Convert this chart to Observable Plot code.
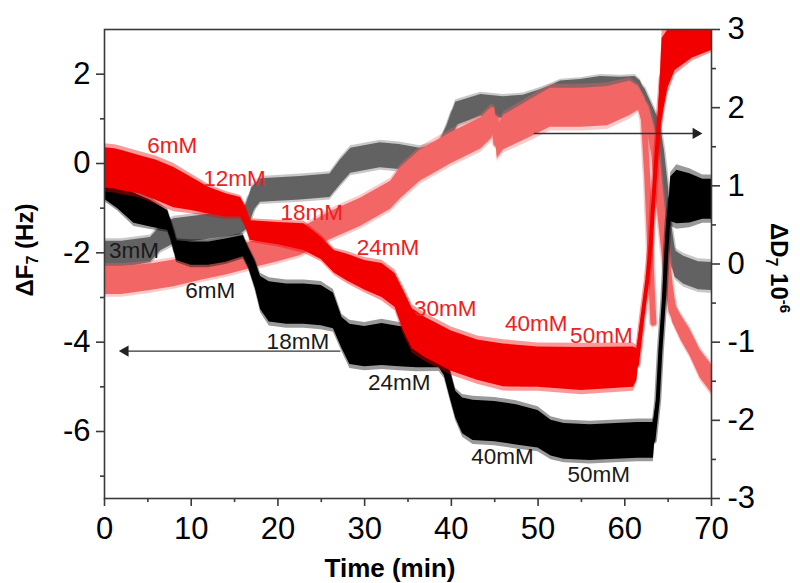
<!DOCTYPE html>
<html><head><meta charset="utf-8">
<script src="https://cdn.jsdelivr.net/npm/d3@7"></script>
<script src="https://cdn.jsdelivr.net/npm/@observablehq/plot@0.6"></script>
<style>
body{margin:0;background:#fff;}
#chart{width:800px;height:583px;}
</style></head><body>
<div id="chart"></div>
<script>
// ---- axes ----
const xDomain = [0, 70];
const yLeftDomain = [-7.5, 3];   // ΔF7 (Hz)
const yRightDomain = [-3, 3];    // ΔD7 (1e-6)
const xMajor = [0, 10, 20, 30, 40, 50, 60, 70];
const xMinor = [5, 15, 25, 35, 45, 55, 65];
const yMajor = [-6, -4, -2, 0, 2];
const yMinor = [-7, -5, -3, -1, 1];
const dMajor = [-3, -2, -1, 0, 1, 2, 3];
const dMinor = [-2.5, -1.5, -0.5, 0.5, 1.5, 2.5];

// ---- ΔF7, black (sample 1): time, centre of band, half band width ----
const tF1 = [0,1.5,3.4,5.3,7.3,7.7,8.3,10,12,14,16.0,16.6,17.4,18.0,19.0,21,23,25,26.4,27.4,28.3,30,32,34,36,38.6,39.2,39.8,40.5,41.3,42.5,45,47.5,50,51.5,53,56,59,61.5,63.3,63.8,64.1,64.5,64.8,65.0,65.3,66,67.5,69,70];
const f1 = [-0.55,-0.76,-1.0,-1.12,-1.28,-1.5,-1.95,-2.02,-2.02,-1.95,-1.85,-2.1,-2.5,-2.9,-3.1,-3.15,-3.15,-3.18,-3.3,-3.8,-4.05,-4.1,-4.05,-4.1,-4.12,-4.15,-4.4,-4.9,-5.4,-5.65,-5.75,-5.78,-5.85,-5.95,-6.15,-6.22,-6.25,-6.22,-6.2,-6.2,-5.3,-4.2,-3.07,-1.95,-1.3,-0.8,-0.75,-0.78,-0.8,-0.8];
const wF1 = [0.25,0.25,0.34,0.3,0.22,0.2,0.22,0.26,0.26,0.26,0.24,0.22,0.3,0.37,0.45,0.45,0.45,0.45,0.4,0.35,0.45,0.45,0.47,0.45,0.45,0.42,0.35,0.3,0.3,0.4,0.45,0.45,0.45,0.42,0.4,0.4,0.4,0.4,0.4,0.4,0.12,0.1,0.1,0.1,0.12,0.5,0.6,0.55,0.45,0.45];

// ---- ΔF7, red (sample 2) ----
const tF2 = [0,1.2,2,4,6,8,10,12,14,15.7,16.3,16.8,20,23,25,26.5,28,30,32,33.5,34.5,35.5,37,40,43,46,50,55,61,61.4,62.0,62.6,63.0,63.4,63.7,64.0,64.3,65.0,65.8,67.8,70];
const f2 = [-0.1,-0.12,-0.16,-0.25,-0.38,-0.54,-0.68,-0.83,-0.94,-0.98,-1.2,-1.5,-1.57,-1.65,-1.9,-2.2,-2.33,-2.5,-2.62,-2.84,-3.3,-3.7,-3.9,-4.2,-4.4,-4.52,-4.56,-4.6,-4.56,-4.5,-3.5,-2.6,-1.8,-0.5,0.3,1.1,1.9,2.35,2.54,2.68,2.77];
const wF2 = [0.45,0.45,0.45,0.43,0.45,0.45,0.37,0.3,0.26,0.22,0.22,0.22,0.25,0.3,0.25,0.25,0.3,0.33,0.38,0.38,0.45,0.45,0.45,0.45,0.45,0.48,0.45,0.48,0.45,0.35,0.12,0.12,0.12,0.12,0.15,0.4,0.9,0.65,0.46,0.32,0.24];

// ---- ΔD7, grey (sample 1), in 1e-6 ----
const tD1 = [0,2,5.3,6.5,8,11,15.6,16.4,17,18,22.6,26,27.2,28.4,31.8,34,36.4,38.5,39.5,40.5,43.4,46,48.3,50,51.4,52.6,54.9,57.2,59.5,61.2,61.8,62.7,63.5,64.0,64.5,64.9,65.3,65.8,66.8,68.5,70];
const d1 = [0.12,0.12,0.18,0.33,0.42,0.46,0.53,0.6,0.82,0.94,0.97,1.0,1.17,1.32,1.39,1.37,1.32,1.38,1.6,1.92,2.03,2.0,2.02,2.08,2.15,2.22,2.24,2.28,2.27,2.28,2.22,2.0,1.8,1.45,0.95,0.45,0.15,0.0,-0.08,-0.15,-0.16];
const wD1 = [0.17,0.17,0.16,0.16,0.16,0.16,0.16,0.16,0.16,0.15,0.15,0.15,0.16,0.16,0.16,0.16,0.16,0.16,0.16,0.15,0.14,0.14,0.14,0.14,0.13,0.12,0.12,0.12,0.12,0.12,0.12,0.1,0.1,0.1,0.1,0.1,0.12,0.17,0.18,0.18,0.18];

// ---- ΔD7, pink (sample 2) ----
const tD2 = [0,2,5.3,8,11,14,16.8,20,22.6,26,29.5,33,34.1,36.4,39.9,43.4,44.6,45.0,45.3,46,49.1,51.4,55,58,60.6,61.6,62.3,63.0,63.5,64.3,64.7,65.1,65.5,66.5,67.5,68.7,70];
const d2 = [-0.21,-0.21,-0.17,-0.12,-0.04,0.03,0.11,0.2,0.28,0.49,0.66,0.88,1.03,1.26,1.48,1.67,1.8,1.85,1.55,1.68,1.86,2.0,2.0,2.02,2.12,2.12,2.0,1.7,1.41,0.55,0.13,-0.3,-0.6,-0.82,-1.0,-1.28,-1.47];
const wD2 = [0.18,0.18,0.17,0.17,0.17,0.17,0.17,0.17,0.17,0.18,0.18,0.18,0.2,0.2,0.2,0.2,0.2,0.15,0.2,0.22,0.24,0.25,0.25,0.25,0.22,0.15,0.12,0.12,0.12,0.12,0.12,0.12,0.14,0.16,0.17,0.18,0.18];
// fast-dropping pink branch after 61 min
const tD2drop = [61.6,62.2,62.6,62.9,63.1,63.3];
const d2drop = [2.12,1.85,1.1,0.3,-0.3,-0.75];
const wD2drop = [0.12,0.1,0.1,0.1,0.1,0.1];

// ---- concentration labels ----
const redLabelText = ["6mM","12mM","18mM","24mM","30mM","40mM","50mM"];
const redLabelT = [7.8,15.0,23.9,32.7,39.3,49.8,57.3];
const redLabelF = [0.4,-0.34,-1.1,-1.88,-3.25,-3.58,-3.85];
const blackLabelText = ["3mM","6mM","18mM","24mM","40mM","50mM"];
const blackLabelT = [3.4,12.2,22.3,34.0,45.9,57.0];
const blackLabelF = [-1.95,-2.86,-3.99,-4.9,-6.56,-6.96];

// ---- arrows (which axis each points to) ----
const arrowFrom = [27.2, 49.5];
const arrowTo = [1.6, 69.0];
const arrowLevel = [-4.2, 1.67];
const arrowAxis = ["F", "D"];

// map ΔD onto the ΔF scale so the right axis lines up with the frame
const dToF = d => yLeftDomain[0] + (d - yRightDomain[0]) * (yLeftDomain[1] - yLeftDomain[0]) / (yRightDomain[1] - yRightDomain[0]);
const fToD = f => yRightDomain[0] + (f - yLeftDomain[0]) * (yRightDomain[1] - yRightDomain[0]) / (yLeftDomain[1] - yLeftDomain[0]);

// band rows; k widens the band for a faint outer fringe of scattered points
const band = (t, m, w, conv = v => v, k = 1) => t.map((ti, i) => ({t: ti, mid: conv(m[i]), lo: conv(m[i] - k * w[i]), hi: conv(m[i] + k * w[i])}));

function bandMarks(t, m, w, conv, fill, midW, fringe) {
  const core = band(t, m, w, conv, 1);
  const halo = band(t, m, w, conv, 1.2);
  return [
    Plot.areaY(halo, {x: "t", y1: "lo", y2: "hi", fill: fill, fillOpacity: fringe, clip: true}),
    Plot.line(halo, {x: "t", y: "mid", stroke: fill, strokeOpacity: fringe, strokeWidth: midW + 3, clip: true}),
    Plot.areaY(core, {x: "t", y1: "lo", y2: "hi", fill: fill, clip: true}),
    Plot.line(core, {x: "t", y: "mid", stroke: fill, strokeWidth: midW, clip: true})
  ];
}

const arrows = arrowFrom.map((a, i) => {
  const y = arrowAxis[i] === "D" ? dToF(arrowLevel[i]) : arrowLevel[i];
  const dir = Math.sign(arrowTo[i] - a);
  return {x1: a, x2: arrowTo[i] - dir * 0.8, head: arrowTo[i] - dir * 0.8, y, rot: dir > 0 ? 90 : -90};
});

const redLabels = redLabelText.map((s, i) => ({s, t: redLabelT[i], f: redLabelF[i]}));
const blackLabels = blackLabelText.map((s, i) => ({s, t: blackLabelT[i], f: blackLabelF[i]}));

const fmt = v => String(Math.round(v * 100) / 100);
const axisCol = "#3a3a3a";

const chart = Plot.plot({
  width: 800, height: 583,
  marginLeft: 104, marginRight: 89, marginTop: 29, marginBottom: 85,
  x: {domain: xDomain},
  y: {domain: yLeftDomain},
  style: {fontFamily: "'Liberation Sans', Arial, sans-serif", fontSize: "31px", background: "#fff", color: "#000"},
  marks: [
    ...bandMarks(tD1, d1, wD1, dToF, "#626262", 9, 0.35),
    ...bandMarks(tD2, d2, wD2, dToF, "#f36666", 8, 0.35),
    ...bandMarks(tD2drop, d2drop, wD2drop, dToF, "#f36666", 6, 0.35),
    ...bandMarks(tF1, f1, wF1, v => v, "#000", 4, 0.4),
    ...bandMarks(tF2, f2, wF2, v => v, "#f20000", 4, 0.4),
    Plot.link(arrows, {x1: "x1", x2: "x2", y1: "y", y2: "y", stroke: "#333", strokeWidth: 1.4}),
    Plot.dot(arrows, {x: "head", y: "y", symbol: "triangle", r: 4.2, fill: "#222", stroke: "none", rotate: "rot"}),
    Plot.text(redLabels, {x: "t", y: "f", text: "s", fill: "#ee2020", fontSize: 22.5}),
    Plot.text(blackLabels, {x: "t", y: "f", text: "s", fill: "#1a1a1a", fontSize: 22.5}),
    Plot.frame({stroke: axisCol, strokeWidth: 1.6}),
    Plot.axisX({ticks: xMajor, tickSize: 8, tickPadding: 10, tickFormat: fmt, label: null, stroke: axisCol, fill: "#000", strokeWidth: 1.6}),
    Plot.axisX({ticks: xMinor, tickSize: 4, tickFormat: () => "", label: null, stroke: axisCol, strokeWidth: 1.6}),
    Plot.axisY({ticks: yMajor, tickSize: 8, tickPadding: 6, tickFormat: fmt, label: null, stroke: axisCol, fill: "#000", strokeWidth: 1.6}),
    Plot.axisY({ticks: yMinor, tickSize: 4, tickFormat: () => "", label: null, stroke: axisCol, strokeWidth: 1.6}),
    Plot.axisY({anchor: "right", ticks: dMajor.map(dToF), tickSize: 8, tickPadding: 8, tickFormat: v => String(Math.round(fToD(v))), label: null, stroke: axisCol, fill: "#000", strokeWidth: 1.6}),
    Plot.axisY({anchor: "right", ticks: dMinor.map(dToF), tickSize: 4, tickFormat: () => "", label: null, stroke: axisCol, strokeWidth: 1.6})
  ]
});

document.getElementById("chart").appendChild(chart);

const svg = d3.select(chart);

// axis titles (bold, with sub/superscripts)
const titleFont = "'Liberation Sans', Arial, sans-serif";
const left = svg.append("text").attr("transform", "translate(33,250) rotate(-90)")
  .attr("text-anchor", "middle").attr("font-family", titleFont).attr("font-weight", "bold").attr("font-size", 24).attr("fill", "#000");
left.append("tspan").text("ΔF");
left.append("tspan").attr("font-size", 16).attr("dy", 5).text("7");
left.append("tspan").attr("dy", -5).text(" (Hz)");

svg.append("text").attr("x", 390).attr("y", 577).attr("text-anchor", "middle")
  .attr("font-family", titleFont).attr("font-weight", "bold").attr("font-size", 26).attr("fill", "#000").text("Time (min)");

const right = svg.append("text").attr("transform", "translate(771,268) rotate(90)")
  .attr("text-anchor", "middle").attr("font-family", titleFont).attr("font-weight", "bold").attr("font-size", 24).attr("fill", "#000");
right.append("tspan").text("ΔD");
right.append("tspan").attr("font-size", 16).attr("dy", 5).text("7");
right.append("tspan").attr("dy", -5).text(" 10");
right.append("tspan").attr("font-size", 15).attr("dy", -9).text("-6");
</script>
</body></html>
